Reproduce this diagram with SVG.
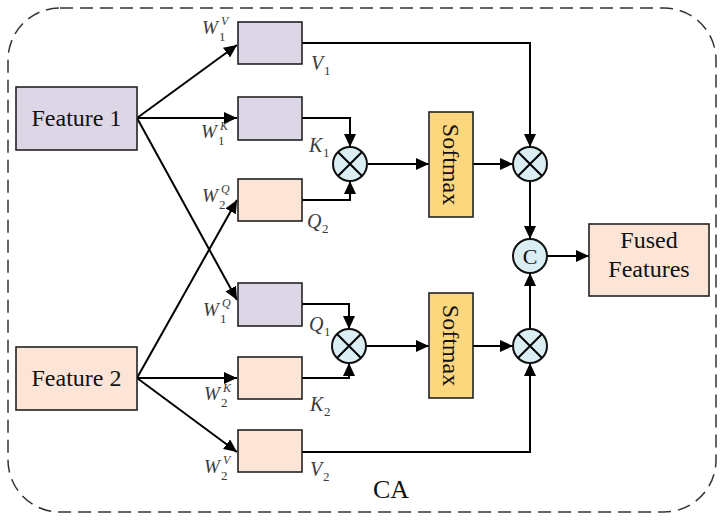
<svg xmlns="http://www.w3.org/2000/svg" width="724" height="520" viewBox="0 0 724 520">
<style>
.box{stroke:#222;stroke-width:1.6}
.pur{fill:#DCD6E6}
.pch{fill:#FCE5D7}
.sm{fill:#FDD77E}
.cir{fill:#DAEEF3;stroke:#111;stroke-width:2}
.ln{fill:none;stroke:#000;stroke-width:2}
.t{font-family:"Liberation Serif","Times New Roman",serif;fill:#111}
.m{font-family:"Liberation Serif","Times New Roman",serif;font-style:italic;fill:#3a3a3a}
.w{font-size:19px}
.l{font-size:20px}
.s{font-size:13px;font-style:normal}
.u{font-size:12px}
</style>
<defs>
<marker id="ah" markerUnits="userSpaceOnUse" markerWidth="14" markerHeight="12" refX="13" refY="6" orient="auto">
<path d="M0,0 L13,6 L0,12 z" fill="#000"/>
</marker>
</defs>
<rect x="8" y="8" width="708" height="504" rx="52" ry="52" fill="none" stroke="#333" stroke-width="1.5" stroke-dasharray="13,7"/>

<g id="connectors">
<line class="ln" x1="137" y1="118" x2="237" y2="45" marker-end="url(#ah)"/>
<line class="ln" x1="137" y1="118" x2="237" y2="118" marker-end="url(#ah)"/>
<line class="ln" x1="137" y1="118" x2="237" y2="300" marker-end="url(#ah)"/>
<line class="ln" x1="137" y1="378" x2="237" y2="200" marker-end="url(#ah)"/>
<line class="ln" x1="137" y1="378" x2="237" y2="378" marker-end="url(#ah)"/>
<line class="ln" x1="137" y1="378" x2="237" y2="452" marker-end="url(#ah)"/>
<polyline class="ln" points="302,43 530,43 530,147" marker-end="url(#ah)"/>
<polyline class="ln" points="302,118 350,118 350,147" marker-end="url(#ah)"/>
<polyline class="ln" points="302,200 350,200 350,181" marker-end="url(#ah)"/>
<line class="ln" x1="368" y1="164" x2="429" y2="164" marker-end="url(#ah)"/>
<line class="ln" x1="473" y1="164" x2="513" y2="164" marker-end="url(#ah)"/>
<line class="ln" x1="530" y1="181" x2="530" y2="239" marker-end="url(#ah)"/>
<line class="ln" x1="547" y1="256" x2="589" y2="256" marker-end="url(#ah)"/>
<polyline class="ln" points="302,304 349,304 349,329" marker-end="url(#ah)"/>
<polyline class="ln" points="302,378 349,378 349,363" marker-end="url(#ah)"/>
<line class="ln" x1="366" y1="346" x2="429" y2="346" marker-end="url(#ah)"/>
<line class="ln" x1="473" y1="346" x2="513" y2="346" marker-end="url(#ah)"/>
<polyline class="ln" points="302,452 530,452 530,363" marker-end="url(#ah)"/>
<line class="ln" x1="530" y1="329" x2="530" y2="273" marker-end="url(#ah)"/>
</g>

<g id="feature1"><rect class="box pur" x="16" y="87" width="121" height="63"/><text class="t" x="76.5" y="126" font-size="24" text-anchor="middle">Feature 1</text></g>
<g id="feature2"><rect class="box pch" x="16" y="347" width="121" height="63"/><text class="t" x="76.5" y="386" font-size="24" text-anchor="middle">Feature 2</text></g>

<g id="v1"><rect class="box pur" x="238" y="22" width="64" height="42"/>
<text class="m w" x="202" y="34">W</text><text class="m s" x="219" y="41">1</text><text class="m u" x="221" y="25">V</text>
<text class="m l" x="311" y="70">V</text><text class="m s" x="324" y="75">1</text></g>
<g id="k1"><rect class="box pur" x="238" y="97" width="64" height="43"/>
<text class="m w" x="201" y="138">W</text><text class="m s" x="218" y="145">1</text><text class="m u" x="220" y="130">K</text>
<text class="m l" x="309" y="152">K</text><text class="m s" x="323" y="157">1</text></g>
<g id="q2"><rect class="box pch" x="238" y="179" width="64" height="42"/>
<text class="m w" x="202" y="202">W</text><text class="m s" x="219" y="209">2</text><text class="m u" x="221" y="193">Q</text>
<text class="m l" x="307" y="228">Q</text><text class="m s" x="322" y="233">2</text></g>
<g id="q1"><rect class="box pur" x="238" y="283" width="64" height="43"/>
<text class="m w" x="203" y="316">W</text><text class="m s" x="220" y="323">1</text><text class="m u" x="222" y="307">Q</text>
<text class="m l" x="309" y="331">Q</text><text class="m s" x="324" y="336">1</text></g>
<g id="k2"><rect class="box pch" x="238" y="357" width="64" height="42"/>
<text class="m w" x="204" y="400">W</text><text class="m s" x="221" y="407">2</text><text class="m u" x="223" y="392">K</text>
<text class="m l" x="310" y="411">K</text><text class="m s" x="324" y="416">2</text></g>
<g id="v2"><rect class="box pch" x="238" y="430" width="64" height="42"/>
<text class="m w" x="204" y="473">W</text><text class="m s" x="221" y="480">2</text><text class="m u" x="223" y="464">V</text>
<text class="m l" x="310" y="476">V</text><text class="m s" x="323" y="481">2</text></g>

<g id="mul1"><circle class="cir" cx="350" cy="164" r="17"/><path class="ln" d="M338,152 L362,176 M362,152 L338,176"/></g>
<g id="mul2"><circle class="cir" cx="349" cy="346" r="17"/><path class="ln" d="M337,334 L361,358 M361,334 L337,358"/></g>
<g id="mul3"><circle class="cir" cx="530" cy="164" r="17"/><path class="ln" d="M518,152 L542,176 M542,152 L518,176"/></g>
<g id="mul4"><circle class="cir" cx="530" cy="346" r="17"/><path class="ln" d="M518,334 L542,358 M542,334 L518,358"/></g>
<g id="concat"><circle class="cir" cx="530" cy="256" r="17"/><text class="t" x="530" y="264" font-size="22" text-anchor="middle">C</text></g>

<g id="softmax1"><rect class="box sm" x="429" y="112" width="44" height="105"/><text class="t" font-size="24" text-anchor="middle" transform="translate(443,164.5) rotate(90)">Softmax</text></g>
<g id="softmax2"><rect class="box sm" x="429" y="293" width="44" height="105"/><text class="t" font-size="24" text-anchor="middle" transform="translate(443,345.5) rotate(90)">Softmax</text></g>

<g id="fused"><rect class="box pch" x="589" y="224" width="120" height="72"/>
<text class="t" font-size="24" text-anchor="middle" x="649" y="248">Fused</text>
<text class="t" font-size="24" text-anchor="middle" x="649" y="277">Features</text></g>

<text class="t" x="391" y="498" font-size="26" text-anchor="middle">CA</text>
</svg>
